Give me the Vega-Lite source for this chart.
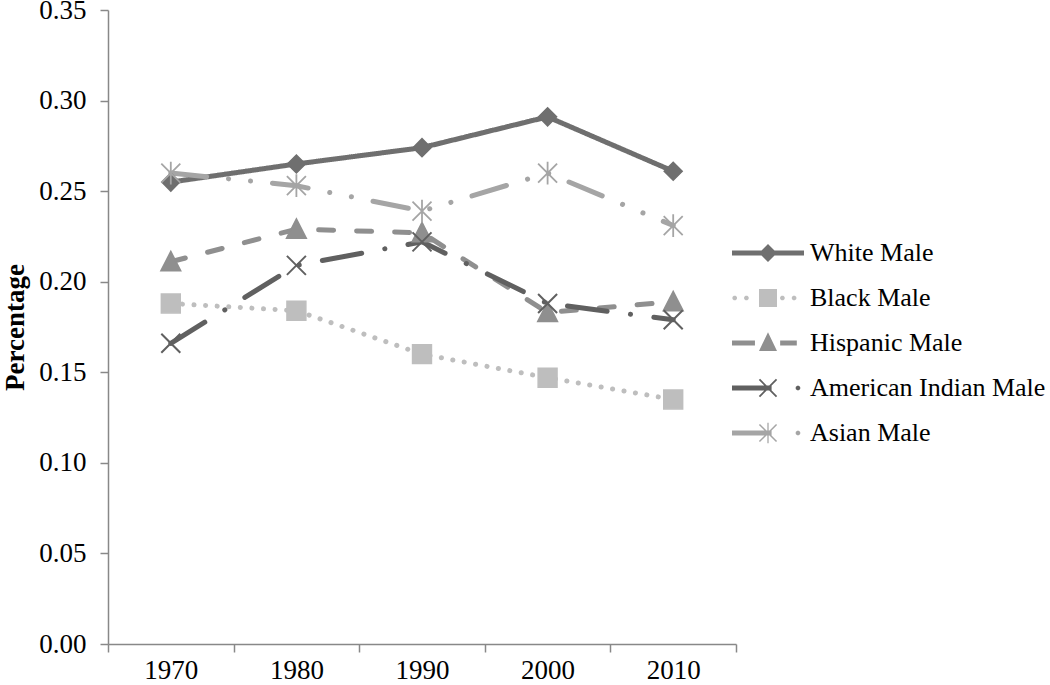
{
  "$schema": "https://vega.github.io/schema/vega-lite/v6.json",
  "autosize": {"type": "none"},
  "width": 628,
  "height": 634,
  "padding": {"left": 108, "top": 10, "right": 314, "bottom": 41},
  "background": "white",
  "config": {
    "view": {"stroke": null},
    "font": "Liberation Serif"
  },
  "data": {
    "values": [
      {"year": "1970", "group": "White Male", "value": 0.255},
      {"year": "1980", "group": "White Male", "value": 0.265},
      {"year": "1990", "group": "White Male", "value": 0.274},
      {"year": "2000", "group": "White Male", "value": 0.291},
      {"year": "2010", "group": "White Male", "value": 0.261},
      {"year": "1970", "group": "Black Male", "value": 0.188},
      {"year": "1980", "group": "Black Male", "value": 0.184},
      {"year": "1990", "group": "Black Male", "value": 0.160},
      {"year": "2000", "group": "Black Male", "value": 0.147},
      {"year": "2010", "group": "Black Male", "value": 0.135},
      {"year": "1970", "group": "Hispanic Male", "value": 0.211},
      {"year": "1980", "group": "Hispanic Male", "value": 0.229},
      {"year": "1990", "group": "Hispanic Male", "value": 0.227},
      {"year": "2000", "group": "Hispanic Male", "value": 0.183},
      {"year": "2010", "group": "Hispanic Male", "value": 0.189},
      {"year": "1970", "group": "American Indian Male", "value": 0.166},
      {"year": "1980", "group": "American Indian Male", "value": 0.209},
      {"year": "1990", "group": "American Indian Male", "value": 0.222},
      {"year": "2000", "group": "American Indian Male", "value": 0.188},
      {"year": "2010", "group": "American Indian Male", "value": 0.179},
      {"year": "1970", "group": "Asian Male", "value": 0.260},
      {"year": "1980", "group": "Asian Male", "value": 0.253},
      {"year": "1990", "group": "Asian Male", "value": 0.239},
      {"year": "2000", "group": "Asian Male", "value": 0.260},
      {"year": "2010", "group": "Asian Male", "value": 0.231}
    ]
  },
  "encoding": {
    "x": {
      "field": "year",
      "type": "ordinal",
      "bandPosition": 0.5,
      "scale": {"type": "band", "paddingInner": 0, "paddingOuter": 0},
      "axis": {
        "title": null,
        "labelAngle": 0,
        "labelFont": "Liberation Serif",
        "labelFontSize": 27,
        "labelColor": "#000000",
        "labelPadding": 5,
        "tickBand": "extent",
        "tickSize": 8,
        "tickColor": "#888888",
        "tickWidth": 1.5,
        "domainColor": "#888888",
        "domainWidth": 1.5,
        "grid": false
      }
    },
    "y": {
      "field": "value",
      "type": "quantitative",
      "scale": {"domain": [0, 0.35], "nice": false},
      "axis": {
        "title": "Percentage",
        "titleFont": "Liberation Serif",
        "titleFontSize": 27,
        "titleFontWeight": "bold",
        "titleColor": "#000000",
        "titlePadding": 9,
        "values": [0, 0.05, 0.1, 0.15, 0.2, 0.25, 0.3, 0.35],
        "format": ".2f",
        "labelFont": "Liberation Serif",
        "labelFontSize": 27,
        "labelColor": "#000000",
        "labelPadding": 14,
        "labelFlush": false,
        "labelOverlap": false,
        "tickSize": 8,
        "tickColor": "#888888",
        "tickWidth": 1.5,
        "domainColor": "#888888",
        "domainWidth": 1.5,
        "grid": false
      }
    },
    "color": {
      "field": "group",
      "type": "nominal",
      "scale": {
        "domain": ["White Male", "Black Male", "Hispanic Male", "American Indian Male", "Asian Male"],
        "range": ["#6f6f6f", "#bebebe", "#8f8f8f", "#606060", "#a5a5a5"]
      },
      "legend": {
        "title": null,
        "orient": "none",
        "legendX": 647,
        "legendY": 230,
        "padding": 0,
        "symbolSize": 324,
        "symbolOffset": 0,
        "labelOffset": 29,
        "labelFont": "Liberation Serif",
        "labelFontSize": 26,
        "labelColor": "#000000",
        "labelLimit": 400,
        "rowPadding": 19,
        "encode": {
          "symbols": {
            "update": {
              "shape": {"signal": "datum.value === 'White Male' ? 'M-4,-0.28H4V0.28H-4Z M-1,0L0,-1L1,0L0,1Z' : datum.value === 'Black Male' ? 'M-3.8,-0.25L-3.6,-0.25L-3.45,-0.1L-3.45,0.1L-3.6,0.25L-3.8,0.25L-3.95,0.1L-3.95,-0.1Z M-2.5,-0.25L-2.3,-0.25L-2.15,-0.1L-2.15,0.1L-2.3,0.25L-2.5,0.25L-2.65,0.1L-2.65,-0.1Z M-1,-1H1V1H-1Z M1.5,-0.25L1.7,-0.25L1.85,-0.1L1.85,0.1L1.7,0.25L1.5,0.25L1.35,0.1L1.35,-0.1Z M2.8,-0.25L3,-0.25L3.15,-0.1L3.15,0.1L3,0.25L2.8,0.25L2.65,0.1L2.65,-0.1Z' : datum.value === 'Hispanic Male' ? 'M-4,-0.28H-1.45V0.28H-4Z M0,-1.2L1,0.9L-1,0.9Z M1.35,-0.28H3.2V0.28H1.35Z' : datum.value === 'American Indian Male' ? 'M-4,-0.28H0.4V0.28H-4Z M-1.02,-0.88L-0.88,-1.02L1.02,0.88L0.88,1.02Z M-1.02,0.88L0.88,-1.02L1.02,-0.88L-0.88,1.02Z M3.23,-0.25L3.43,-0.25L3.58,-0.1L3.58,0.1L3.43,0.25L3.23,0.25L3.08,0.1L3.08,-0.1Z' : 'M-4,-0.28H0.4V0.28H-4Z M-1.01,-0.89L-0.89,-1.01L1.01,0.89L0.89,1.01Z M-1.01,0.89L0.89,-1.01L1.01,-0.89L-0.89,1.01Z M-0.07,-1.15H0.07V1.15H-0.07Z M3.23,-0.25L3.43,-0.25L3.58,-0.1L3.58,0.1L3.43,0.25L3.23,0.25L3.08,0.1L3.08,-0.1Z'"},
              "fill": {"scale": "color", "field": "value"},
              "stroke": {"value": "transparent"},
              "strokeWidth": {"value": 0},
              "strokeDash": {"value": []},
              "opacity": {"value": 1},
              "fillOpacity": {"value": 1},
              "size": {"value": 324}
            }
          }
        }
      }
    }
  },
  "layer": [
    {
      "mark": {"type": "line", "strokeWidth": 5, "strokeCap": "round", "strokeJoin": "round"},
      "encoding": {
        "strokeDash": {
          "field": "group",
          "type": "nominal",
          "scale": {
            "domain": ["White Male", "Black Male", "Hispanic Male", "American Indian Male", "Asian Male"],
            "range": [[1, 0], [0.1, 11.5], [15, 23], [40, 23.5, 0.1, 23.5], [36, 22, 0.1, 22, 0.1, 22]]
          },
          "legend": null
        }
      }
    },
    {
      "transform": [{"filter": "datum.group === 'White Male'"}],
      "mark": {"type": "point", "filled": true, "size": 324, "opacity": 1, "shape": "M-1,0L0,-1L1,0L0,1Z", "stroke": "#6f6f6f", "strokeWidth": 1.5}
    },
    {
      "transform": [{"filter": "datum.group === 'Black Male'"}],
      "mark": {"type": "point", "filled": true, "size": 324, "opacity": 1, "shape": "M-1.05,-1.05H1.05V1.05H-1.05Z", "stroke": "#bebebe", "strokeWidth": 1.5}
    },
    {
      "transform": [{"filter": "datum.group === 'Hispanic Male'"}],
      "mark": {"type": "point", "filled": true, "size": 324, "opacity": 1, "shape": "M0,-1.15L1.1,1L-1.1,1Z", "stroke": "#8f8f8f", "strokeWidth": 1.5}
    },
    {
      "transform": [{"filter": "datum.group === 'American Indian Male'"}],
      "mark": {"type": "point", "filled": false, "size": 361, "opacity": 1, "shape": "M-1,-1L1,1M-1,1L1,-1", "strokeWidth": 2}
    },
    {
      "transform": [{"filter": "datum.group === 'Asian Male'"}],
      "mark": {"type": "point", "filled": false, "size": 361, "opacity": 1, "shape": "M-1,-1L1,1M-1,1L1,-1M0,-1.2L0,1.2", "strokeWidth": 1.8}
    }
  ]
}
